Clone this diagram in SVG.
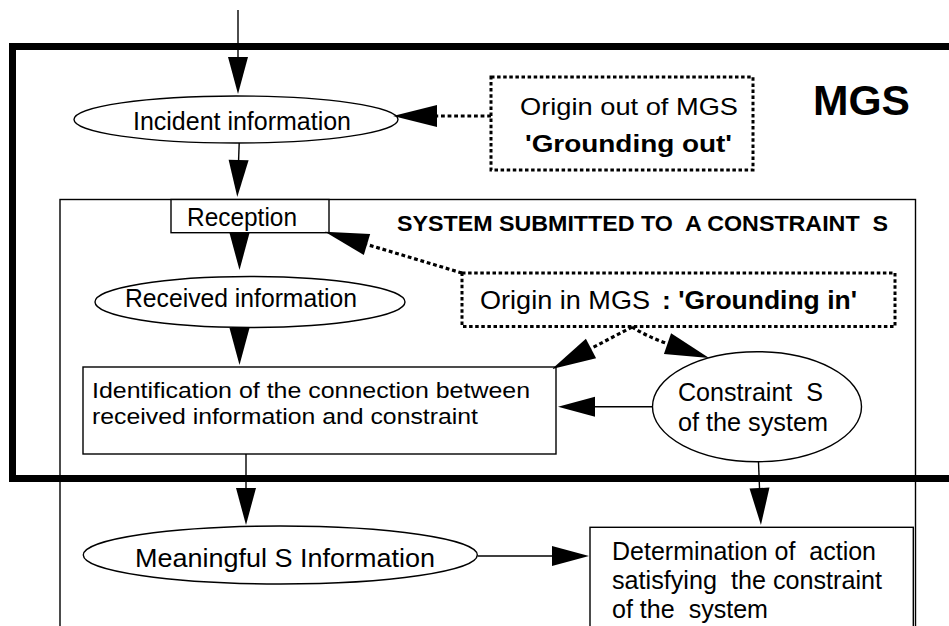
<svg xmlns="http://www.w3.org/2000/svg" width="949" height="626" viewBox="0 0 949 626">
  <style>
    .txt { font-family: "Liberation Sans", Arial, Helvetica, sans-serif; font-size: 26px; fill: #000; }
    .bold { font-weight: bold; }
    .shape { fill: #fff; stroke: #000; stroke-width: 1.4; }
    .dotted-box { fill: #fff; stroke: #000; stroke-width: 3; stroke-dasharray: 3.5 2.6; }
    .link { fill: none; stroke: #000; stroke-width: 1.4; marker-end: url(#head); }
    .link-dot { fill: none; stroke: #000; stroke-width: 3.2; stroke-dasharray: 3.8 2.8; marker-end: url(#head-big); }
  </style>
  <defs>
    <marker id="head" markerUnits="userSpaceOnUse" markerWidth="38" markerHeight="20" refX="0" refY="10" orient="auto" overflow="visible">
      <path d="M0,0 L37,10 L0,20 z" fill="#000"/>
    </marker>
    <marker id="head-big" markerUnits="userSpaceOnUse" markerWidth="45" markerHeight="22" refX="0" refY="11" orient="auto" overflow="visible">
      <path d="M0,0 L44,11 L0,22 z" fill="#000"/>
    </marker>
  </defs>

  <rect width="949" height="626" fill="#fff"/>

  <!-- MGS frame (thick border running off the right edge) -->
  <g id="mgs-frame">
    <rect x="12.5" y="46.5" width="960" height="432" fill="none" stroke="#000" stroke-width="7"/>
    <text class="txt bold" x="813" y="115" style="font-size:42px" textLength="97" lengthAdjust="spacingAndGlyphs">MGS</text>
  </g>

  <!-- System submitted to a constraint S (runs off the bottom edge) -->
  <g id="system-frame">
    <rect x="60" y="199.5" width="855.5" height="460" fill="none" stroke="#000" stroke-width="1.4"/>
    <text class="txt bold" x="397" y="230.5" style="font-size:22px" xml:space="preserve" textLength="491" lengthAdjust="spacingAndGlyphs">SYSTEM SUBMITTED TO  A CONSTRAINT  S</text>
  </g>

  <g id="incident-information">
    <ellipse class="shape" cx="236" cy="119.5" rx="162" ry="23.5"/>
    <text class="txt" x="133" y="130" textLength="218" lengthAdjust="spacingAndGlyphs">Incident information</text>
  </g>

  <g id="grounding-out">
    <rect class="dotted-box" x="491" y="77" width="262" height="93"/>
    <text class="txt" x="520" y="115" style="font-size:24px" textLength="218" lengthAdjust="spacingAndGlyphs">Origin out of MGS</text>
    <text class="txt bold" x="525" y="151.5" style="font-size:24px" textLength="207" lengthAdjust="spacingAndGlyphs">'Grounding out'</text>
  </g>

  <g id="reception">
    <rect class="shape" x="171" y="199.5" width="158" height="33.2"/>
    <text class="txt" x="187" y="226" style="font-size:25px" textLength="110" lengthAdjust="spacingAndGlyphs">Reception</text>
  </g>

  <g id="received-information">
    <ellipse class="shape" cx="250" cy="302" rx="155" ry="25.5"/>
    <text class="txt" x="125" y="307" textLength="232" lengthAdjust="spacingAndGlyphs">Received information</text>
  </g>

  <g id="grounding-in">
    <rect class="dotted-box" x="462" y="273" width="433" height="53.5"/>
    <text class="txt" x="480" y="309.3" style="font-size:25px" textLength="170" lengthAdjust="spacingAndGlyphs">Origin in MGS</text>
    <text class="txt bold" x="662" y="309.3" style="font-size:25px" textLength="195" lengthAdjust="spacingAndGlyphs">: 'Grounding in'</text>
  </g>

  <g id="identification">
    <rect class="shape" x="83" y="367" width="473" height="87"/>
    <text class="txt" x="92" y="397.5" style="font-size:22.5px" textLength="438" lengthAdjust="spacingAndGlyphs">Identification of the connection between</text>
    <text class="txt" x="92" y="423.5" style="font-size:22.5px" textLength="386" lengthAdjust="spacingAndGlyphs">received information and constraint</text>
  </g>

  <g id="constraint-s">
    <ellipse class="shape" cx="757" cy="406.7" rx="104.5" ry="55"/>
    <text class="txt" x="678" y="400.7" xml:space="preserve" textLength="145" lengthAdjust="spacingAndGlyphs">Constraint  S</text>
    <text class="txt" x="678" y="431" textLength="150" lengthAdjust="spacingAndGlyphs">of the system</text>
  </g>

  <g id="meaningful-information">
    <ellipse class="shape" cx="280.3" cy="555" rx="197" ry="29"/>
    <text class="txt" x="135" y="566.7" textLength="300" lengthAdjust="spacingAndGlyphs">Meaningful S Information</text>
  </g>

  <g id="determination">
    <rect class="shape" x="590" y="527.3" width="323.3" height="120"/>
    <text class="txt" x="612" y="559.5" xml:space="preserve" textLength="264" lengthAdjust="spacingAndGlyphs">Determination of  action</text>
    <text class="txt" x="612" y="589" xml:space="preserve" textLength="270" lengthAdjust="spacingAndGlyphs">satisfying  the constraint</text>
    <text class="txt" x="612" y="618" xml:space="preserve" textLength="156" lengthAdjust="spacingAndGlyphs">of the  system</text>
  </g>

  <!-- connectors: paths end at the arrowhead base, markers draw the heads -->
  <g id="connectors">
    <path class="link" d="M238,10 V57"/>
    <path class="link" d="M239.2,143 L238.6,160"/>
    <path class="link" d="M239.5,232 V233"/>
    <path class="link" d="M239.5,327 V328"/>
    <path class="link" d="M653,406.7 H595"/>
    <path class="link" d="M246,454 V488"/>
    <path class="link" d="M758.5,462 L759.5,488"/>
    <path class="link" d="M477.5,556 H552"/>

    <path class="link-dot" d="M491,116 H437"/>
    <path class="link-dot" d="M462,273 L367,244.5"/>
    <path class="link-dot" d="M632,327 L591,348.5"/>
    <path class="link-dot" d="M632,327 Q648,337 667.5,343.7"/>
  </g>
</svg>
